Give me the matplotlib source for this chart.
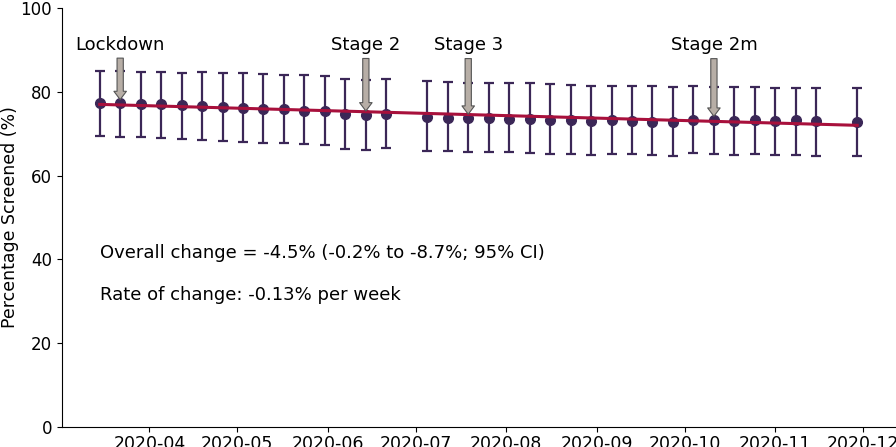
import matplotlib
matplotlib.use("Agg")
import matplotlib.pyplot as plt
import matplotlib.dates as mdates
import pandas as pd

# weekly screening data (two weeks missing)
missing_weeks = ["2020-06-28", "2020-11-22"]
pct = [77.3, 77.3, 77.1, 77.0, 76.8, 76.7, 76.4, 76.1, 75.9, 75.8, 75.5, 75.4, 74.7, 74.5, 74.6,
       73.9, 73.8, 73.7, 73.7, 73.6, 73.6, 73.3, 73.2, 73.0, 73.2, 73.0, 72.9, 72.7, 73.3, 73.2,
       73.0, 73.3, 73.1, 73.2, 73.0,
       72.8]
upper = [85.0, 85.0, 84.8, 84.7, 84.6, 84.7, 84.4, 84.4, 84.2, 84.1, 83.9, 83.8, 83.1, 82.9, 83.0,
         82.6, 82.3, 82.2, 82.1, 82.2, 82.0, 81.9, 81.6, 81.5, 81.3, 81.4, 81.3, 81.1, 81.3, 81.2,
         81.1, 81.1, 81.0, 81.0, 81.0,
         80.8]
lower = [69.5, 69.3, 69.1, 69.0, 68.7, 68.4, 68.3, 67.9, 67.8, 67.8, 67.5, 67.3, 66.3, 66.2, 66.5,
         65.9, 65.8, 65.6, 65.6, 65.6, 65.5, 65.2, 65.1, 65.0, 65.1, 65.1, 64.8, 64.7, 65.3, 65.1,
         65.0, 65.2, 65.0, 64.8, 64.7,
         64.7]

# fitted trend (start / end of the period)
trend_start, trend_end = 77.0, 72.0

events = ["Lockdown", "Stage 2", "Stage 3", "Stage 2m"]
event_dates = ["2020-03-22", "2020-06-14", "2020-07-19", "2020-10-11"]

overall_text = "Overall change = -4.5% (-0.2% to -8.7%; 95% CI)"
rate_text = "Rate of change: -0.13% per week"

weeks = pd.date_range("2020-03-15", "2020-11-29", freq="7D")
weeks = weeks[~weeks.isin(pd.to_datetime(missing_weeks))]
df = pd.DataFrame({"pct": pct, "upper": upper, "lower": lower}, index=weeks)

point_col = "#3b2757"
line_col = "#a8103c"

plt.rcParams["font.family"] = "DejaVu Sans"
fig = plt.figure(figsize=(8.96, 4.47), dpi=100)
ax = fig.add_axes([0.069, 0.045, 0.93, 0.937])

yerr = [df["pct"] - df["lower"], df["upper"] - df["pct"]]
ax.errorbar(df.index, df["pct"], yerr=yerr, fmt="o", color=point_col, ecolor=point_col,
            markersize=7, elinewidth=1.6, capsize=3.5, capthick=1.6, zorder=2)
ax.plot([df.index[0], df.index[-1]], [trend_start, trend_end], color=line_col, lw=2.2, zorder=3)

for name, d in zip(events, event_dates):
    d = pd.Timestamp(d)
    ax.annotate(name, xy=(d, df.loc[d, "pct"] + 0.5), xytext=(d, 90), ha="center", fontsize=13,
                arrowprops=dict(facecolor="#b7aea6", edgecolor="#555555", lw=0.8,
                                width=4.5, headwidth=9, headlength=6, shrink=0.03),
                zorder=4)

ax.text(df.index[0], 41.5, overall_text, fontsize=13, va="center", ha="left")
ax.text(df.index[0], 31.5, rate_text, fontsize=13, va="center", ha="left")

ax.set_ylim(0, 100)
ax.set_ylabel("Percentage Screened (%)", fontsize=12.5, labelpad=1)
ax.xaxis.set_major_locator(mdates.MonthLocator())
ax.xaxis.set_major_formatter(mdates.DateFormatter("%Y-%m"))
ax.tick_params(axis="y", labelsize=12)
ax.tick_params(axis="x", labelsize=12.5, pad=2.5)
ax.spines["top"].set_visible(False)
ax.spines["right"].set_visible(False)

fig.savefig("out.png", dpi=100)
